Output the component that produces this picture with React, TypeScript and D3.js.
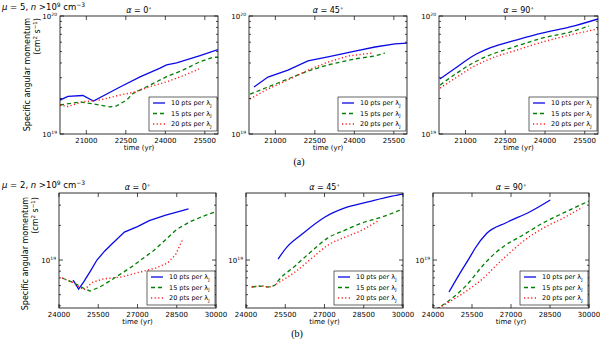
import React from 'react';
import * as d3 from 'd3';

type Pt = [number, number];

// ---- mu = 5 row (time in yr, specific angular momentum in cm^2 s^-1)
const mu5_a0_10: Pt[] = [[20000,1.94e19],[20300,2.08e19],[20870,2.12e19],[21270,1.90e19],[22280,2.5e19],[23040,3.05e19],[23800,3.62e19],[24050,3.85e19],[24430,4.0e19],[25320,4.62e19],[26000,5.2e19]];
const mu5_a0_15: Pt[] = [[20000,1.76e19],[20760,1.87e19],[21250,1.8e19],[21900,1.7e19],[22150,1.73e19],[22530,1.94e19],[22780,2.21e19],[23420,2.6e19],[24050,3.06e19],[24680,3.49e19],[25320,4.1e19],[25820,4.47e19],[26000,4.47e19]];
const mu5_a0_20: Pt[] = [[20000,1.76e19],[20300,1.71e19],[20880,1.88e19],[21520,1.94e19],[22280,2.14e19],[22780,2.25e19],[23420,2.52e19],[24050,2.77e19],[24680,3.12e19],[25280,3.56e19]];

const mu5_a45_10: Pt[] = [[20190,2.5e19],[20720,3.04e19],[21480,3.48e19],[22240,4.16e19],[23000,4.5e19],[24025,5.05e19],[24785,5.46e19],[25545,5.8e19],[26000,5.9e19]];
const mu5_a45_15: Pt[] = [[20040,2.18e19],[20720,2.5e19],[21480,2.93e19],[22240,3.42e19],[23000,3.85e19],[24025,4.33e19],[24785,4.58e19],[25160,4.85e19]];
const mu5_a45_20: Pt[] = [[20040,1.98e19],[20720,2.41e19],[21480,2.87e19],[22240,3.48e19],[23000,4.07e19],[23760,4.58e19],[24670,4.85e19]];

const mu5_a90_10: Pt[] = [[20040,2.93e19],[20680,3.7e19],[21280,4.58e19],[21925,5.36e19],[22945,6.27e19],[23925,7.18e19],[24945,8.07e19],[26000,9.44e19]];
const mu5_a90_15: Pt[] = [[20040,2.6e19],[20680,3.29e19],[21280,4.0e19],[21925,4.67e19],[22945,5.57e19],[23925,6.52e19],[24945,7.31e19],[25660,8.22e19]];
const mu5_a90_20: Pt[] = [[20040,2.45e19],[20680,3.04e19],[21280,3.7e19],[21925,4.33e19],[22945,5.15e19],[23925,6.03e19],[24945,6.9e19],[26000,7.76e19]];

// ---- mu = 2 row
const mu2_a0_10: Pt[] = [[24540,6.7e18],[24750,5.6e18],[24950,6.5e18],[25200,8.0e18],[25450,1.0e19],[25750,1.2e19],[26050,1.4e19],[26500,1.75e19],[27000,1.95e19],[27450,2.2e19],[28050,2.45e19],[28950,2.78e19]];
const mu2_a0_15: Pt[] = [[24115,6.98e18],[24500,6.44e18],[24995,5.6e18],[25185,5.38e18],[25565,5.83e18],[26000,6.7e18],[26445,7.8e18],[26830,8.9e18],[27200,1.03e19],[27600,1.2e19],[28000,1.45e19],[28500,1.85e19],[29000,2.15e19],[29500,2.4e19],[29960,2.62e19]];
const mu2_a0_20: Pt[] = [[24115,6.98e18],[24500,6.44e18],[24950,5.5e18],[25300,6.44e18],[25700,6.85e18],[26400,7.13e18],[27100,7.87e18],[27700,8.53e18],[28150,9.42e18],[28450,1.11e19],[28750,1.55e19]];

const mu2_a45_10: Pt[] = [[25225,1.02e19],[25570,1.3e19],[26100,1.65e19],[27020,2.37e19],[27780,2.84e19],[28660,3.2e19],[29580,3.6e19],[30000,3.75e19]];
const mu2_a45_15: Pt[] = [[24218,5.83e18],[24650,5.94e18],[24840,5.83e18],[25110,6.07e18],[25225,6.58e18],[25875,8.87e18],[26520,1.2e19],[27135,1.56e19],[27785,1.82e19],[28435,2.1e19],[29200,2.37e19],[30000,2.78e19]];
const mu2_a45_20: Pt[] = [[24218,5.83e18],[24650,5.94e18],[24840,5.83e18],[25110,6.07e18],[25225,6.31e18],[25875,7.87e18],[26520,1.04e19],[27135,1.35e19],[27785,1.58e19],[28435,1.82e19],[29045,2.19e19]];

const mu2_a90_10: Pt[] = [[24615,5.27e18],[25040,7.7e18],[25420,1.06e19],[25615,1.26e19],[26060,1.7e19],[26830,2.12e19],[27730,2.63e19],[28510,3.33e19]];
const mu2_a90_15: Pt[] = [[24100,3.7e18],[24650,4.5e18],[25295,6.07e18],[25935,9.05e18],[26450,1.18e19],[26690,1.3e19],[27460,1.65e19],[28230,2.1e19],[29000,2.56e19],[30000,3.26e19]];
const mu2_a90_20: Pt[] = [[24100,3.7e18],[24750,4.5e18],[25300,5.4e18],[25950,7.0e18],[26500,9.3e18],[26850,1.1e19],[27460,1.45e19],[28230,1.89e19],[29000,2.31e19],[29750,2.88e19]];

const seriesNames = ['10', '15', '20'];
const angleTitles = ['0', '45', '90'];
const topXTicks = [21000, 22500, 24000, 25500];
const bottomXTicks = [24000, 25500, 27000, 28500, 30000];
const topYLabels = [1e19, 1e20];
const bottomYLabels = [1e19];

const FONT = 'DejaVu Sans, Liberation Sans, sans-serif';
const styles = [
  { color: '#0a0ae6', dash: undefined as string | undefined, width: 1.3 },
  { color: '#007f00', dash: '4,3', width: 1.3 },
  { color: '#ff1a1a', dash: '1.2,2.4', width: 1.4 },
];

type PanelDef = {
  id: string;
  x0: number; x1: number; y0: number; y1: number;
  xDomain: [number, number];
  yDomain: [number, number];
  xTicks: number[];
  yLabels: number[];
  data: Pt[][];
  title: string;
  smooth: boolean;
};

const sup = (n: number) => String(Math.round(Math.log10(n)));

function Panel({ p }: { p: PanelDef }) {
  const xs = d3.scaleLinear().domain(p.xDomain).range([p.x0, p.x1]);
  const ys = d3.scaleLog().domain(p.yDomain).range([p.y1, p.y0]);
  const line = d3.line<Pt>().x(d => xs(d[0])).y(d => ys(d[1]))
    .curve(p.smooth ? d3.curveMonotoneX : d3.curveLinear);
  const minor: number[] = [];
  const [lo, hi] = p.yDomain;
  for (let e = Math.floor(Math.log10(lo)); e <= Math.ceil(Math.log10(hi)); e++) {
    for (let m = 1; m <= 9; m++) {
      const v = m * Math.pow(10, e);
      if (v >= lo * 0.999 && v <= hi * 1.001) minor.push(v);
    }
  }
  const lgW = 68, lgH = 34;
  const lx = p.x1 - lgW - 1, ly = p.y1 - lgH - 3;
  return (
    <g>
      <clipPath id={'clip-' + p.id}>
        <rect x={p.x0} y={p.y0} width={p.x1 - p.x0} height={p.y1 - p.y0} />
      </clipPath>
      <rect x={p.x0} y={p.y0} width={p.x1 - p.x0} height={p.y1 - p.y0} fill="#fff" />
      <g clipPath={`url(#clip-${p.id})`}>
        {p.data.map((s, i) => (
          <path key={i} d={line(s) || ''} fill="none" stroke={styles[i].color}
            strokeWidth={styles[i].width} strokeDasharray={styles[i].dash} />
        ))}
      </g>
      {p.xTicks.map(t => (
        <g key={'xt' + t}>
          <line x1={xs(t)} x2={xs(t)} y1={p.y1} y2={p.y1 - 4} stroke="#000" strokeWidth={0.7} />
          <line x1={xs(t)} x2={xs(t)} y1={p.y0} y2={p.y0 + 4} stroke="#000" strokeWidth={0.7} />
          <text x={xs(t)} y={p.y1 + 9} fontSize={7} textAnchor="middle" fontFamily={FONT}>{t}</text>
        </g>
      ))}
      {minor.map(v => {
        const isMajor = Math.abs(Math.log10(v) - Math.round(Math.log10(v))) < 1e-6;
        const len = isMajor ? 4 : 2;
        return (
          <g key={'ym' + v}>
            <line x1={p.x0} x2={p.x0 + len} y1={ys(v)} y2={ys(v)} stroke="#000" strokeWidth={0.7} />
            <line x1={p.x1} x2={p.x1 - len} y1={ys(v)} y2={ys(v)} stroke="#000" strokeWidth={0.7} />
          </g>
        );
      })}
      {p.yLabels.map(v => (
        <text key={'yl' + v} x={p.x0 - 3} y={ys(v) + 2.5} fontSize={7} textAnchor="end" fontFamily={FONT}>
          10<tspan fontSize={4.5} dy={-3}>{sup(v)}</tspan>
        </text>
      ))}
      <rect x={p.x0} y={p.y0} width={p.x1 - p.x0} height={p.y1 - p.y0} fill="none" stroke="#000" strokeWidth={0.8} />
      <text x={(p.x0 + p.x1) / 2} y={p.y0 - 3} fontSize={8} textAnchor="middle" fontFamily={FONT}>
        <tspan fontStyle="italic">α</tspan> = {p.title}<tspan fontSize={5.5} dy={-3}>∘</tspan>
      </text>
      <text x={(p.x0 + p.x1) / 2} y={p.y1 + 16} fontSize={7} textAnchor="middle" fontFamily={FONT}>time (yr)</text>
      <rect x={lx} y={ly} width={lgW} height={lgH} fill="#fff" stroke="#000" strokeWidth={0.6} />
      {seriesNames.map((n, i) => {
        const yy = ly + 6 + i * 10.5;
        return (
          <g key={'lg' + i}>
            <line x1={lx + 4} x2={lx + 16} y1={yy} y2={yy} stroke={styles[i].color}
              strokeWidth={styles[i].width} strokeDasharray={styles[i].dash} />
            <text x={lx + 22} y={yy + 2.3} fontSize={6.5} fontFamily={FONT}>
              {n} pts per λ<tspan fontSize={4.5} dy={1.5}>J</tspan>
            </text>
          </g>
        );
      })}
    </g>
  );
}

function YLabel({ x, yEnd }: { x: number; yEnd: number }) {
  return (
    <g fontFamily={FONT} fontSize={8}>
      <text transform={`translate(${x},${yEnd}) rotate(-90)`} textAnchor="end">Specific angular momentum</text>
      <text transform={`translate(${x + 10},${yEnd}) rotate(-90)`} textAnchor="end">
        (cm<tspan fontSize={5.5} dy={-3}>2</tspan><tspan dy={3}>  s</tspan><tspan fontSize={5.5} dy={-3}>−1</tspan><tspan dy={3}>)</tspan>
      </text>
    </g>
  );
}

function RowLabel({ y, mu }: { y: number; mu: string }) {
  return (
    <text x={2} y={y} fontSize={8.5} fontFamily={FONT}>
      <tspan fontStyle="italic">μ</tspan> = {mu}, <tspan fontStyle="italic">n</tspan> &gt;10<tspan fontSize={6} dy={-3.5}>9</tspan><tspan dy={3.5}>  cm</tspan><tspan fontSize={6} dy={-3.5}>−3</tspan>
    </text>
  );
}

export default function App() {
  const topX: [number, number][] = [[60, 218], [249, 407], [439, 598]];
  const botX: [number, number][] = [[59, 216], [246, 403], [433, 589]];
  const topData = [[mu5_a0_10, mu5_a0_15, mu5_a0_20], [mu5_a45_10, mu5_a45_15, mu5_a45_20], [mu5_a90_10, mu5_a90_15, mu5_a90_20]];
  const botData = [[mu2_a0_10, mu2_a0_15, mu2_a0_20], [mu2_a45_10, mu2_a45_15, mu2_a45_20], [mu2_a90_10, mu2_a90_15, mu2_a90_20]];
  const topSmooth = [false, false, true];
  const botSmooth = [false, true, true];
  const panels: PanelDef[] = [];
  topX.forEach(([a, b], i) => panels.push({
    id: 't' + i, x0: a, x1: b, y0: 16, y1: 134, xDomain: [20000, 26000], yDomain: [1e19, 1e20],
    xTicks: topXTicks, yLabels: topYLabels, data: topData[i], title: angleTitles[i], smooth: topSmooth[i],
  }));
  botX.forEach(([a, b], i) => panels.push({
    id: 'b' + i, x0: a, x1: b, y0: 193, y1: 308, xDomain: [24000, 30000],
    yDomain: [Math.pow(10, 18.583), Math.pow(10, 19.583)],
    xTicks: bottomXTicks, yLabels: bottomYLabels, data: botData[i], title: angleTitles[i], smooth: botSmooth[i],
  }));
  return (
    <svg width={600} height={340} style={{ position: 'absolute', left: 0, top: 0, background: '#fff' }}>
      <rect width={600} height={340} fill="#fff" />
      {panels.map(p => <Panel key={p.id} p={p} />)}
      <RowLabel y={10} mu="5" />
      <RowLabel y={188} mu="2" />
      <YLabel x={30} yEnd={18} />
      <YLabel x={28} yEnd={197} />
      <text x={299} y={165} fontSize={10} textAnchor="middle" fontFamily="Liberation Serif, DejaVu Serif, serif">(a)</text>
      <text x={297} y={337} fontSize={10} textAnchor="middle" fontFamily="Liberation Serif, DejaVu Serif, serif">(b)</text>
    </svg>
  );
}
